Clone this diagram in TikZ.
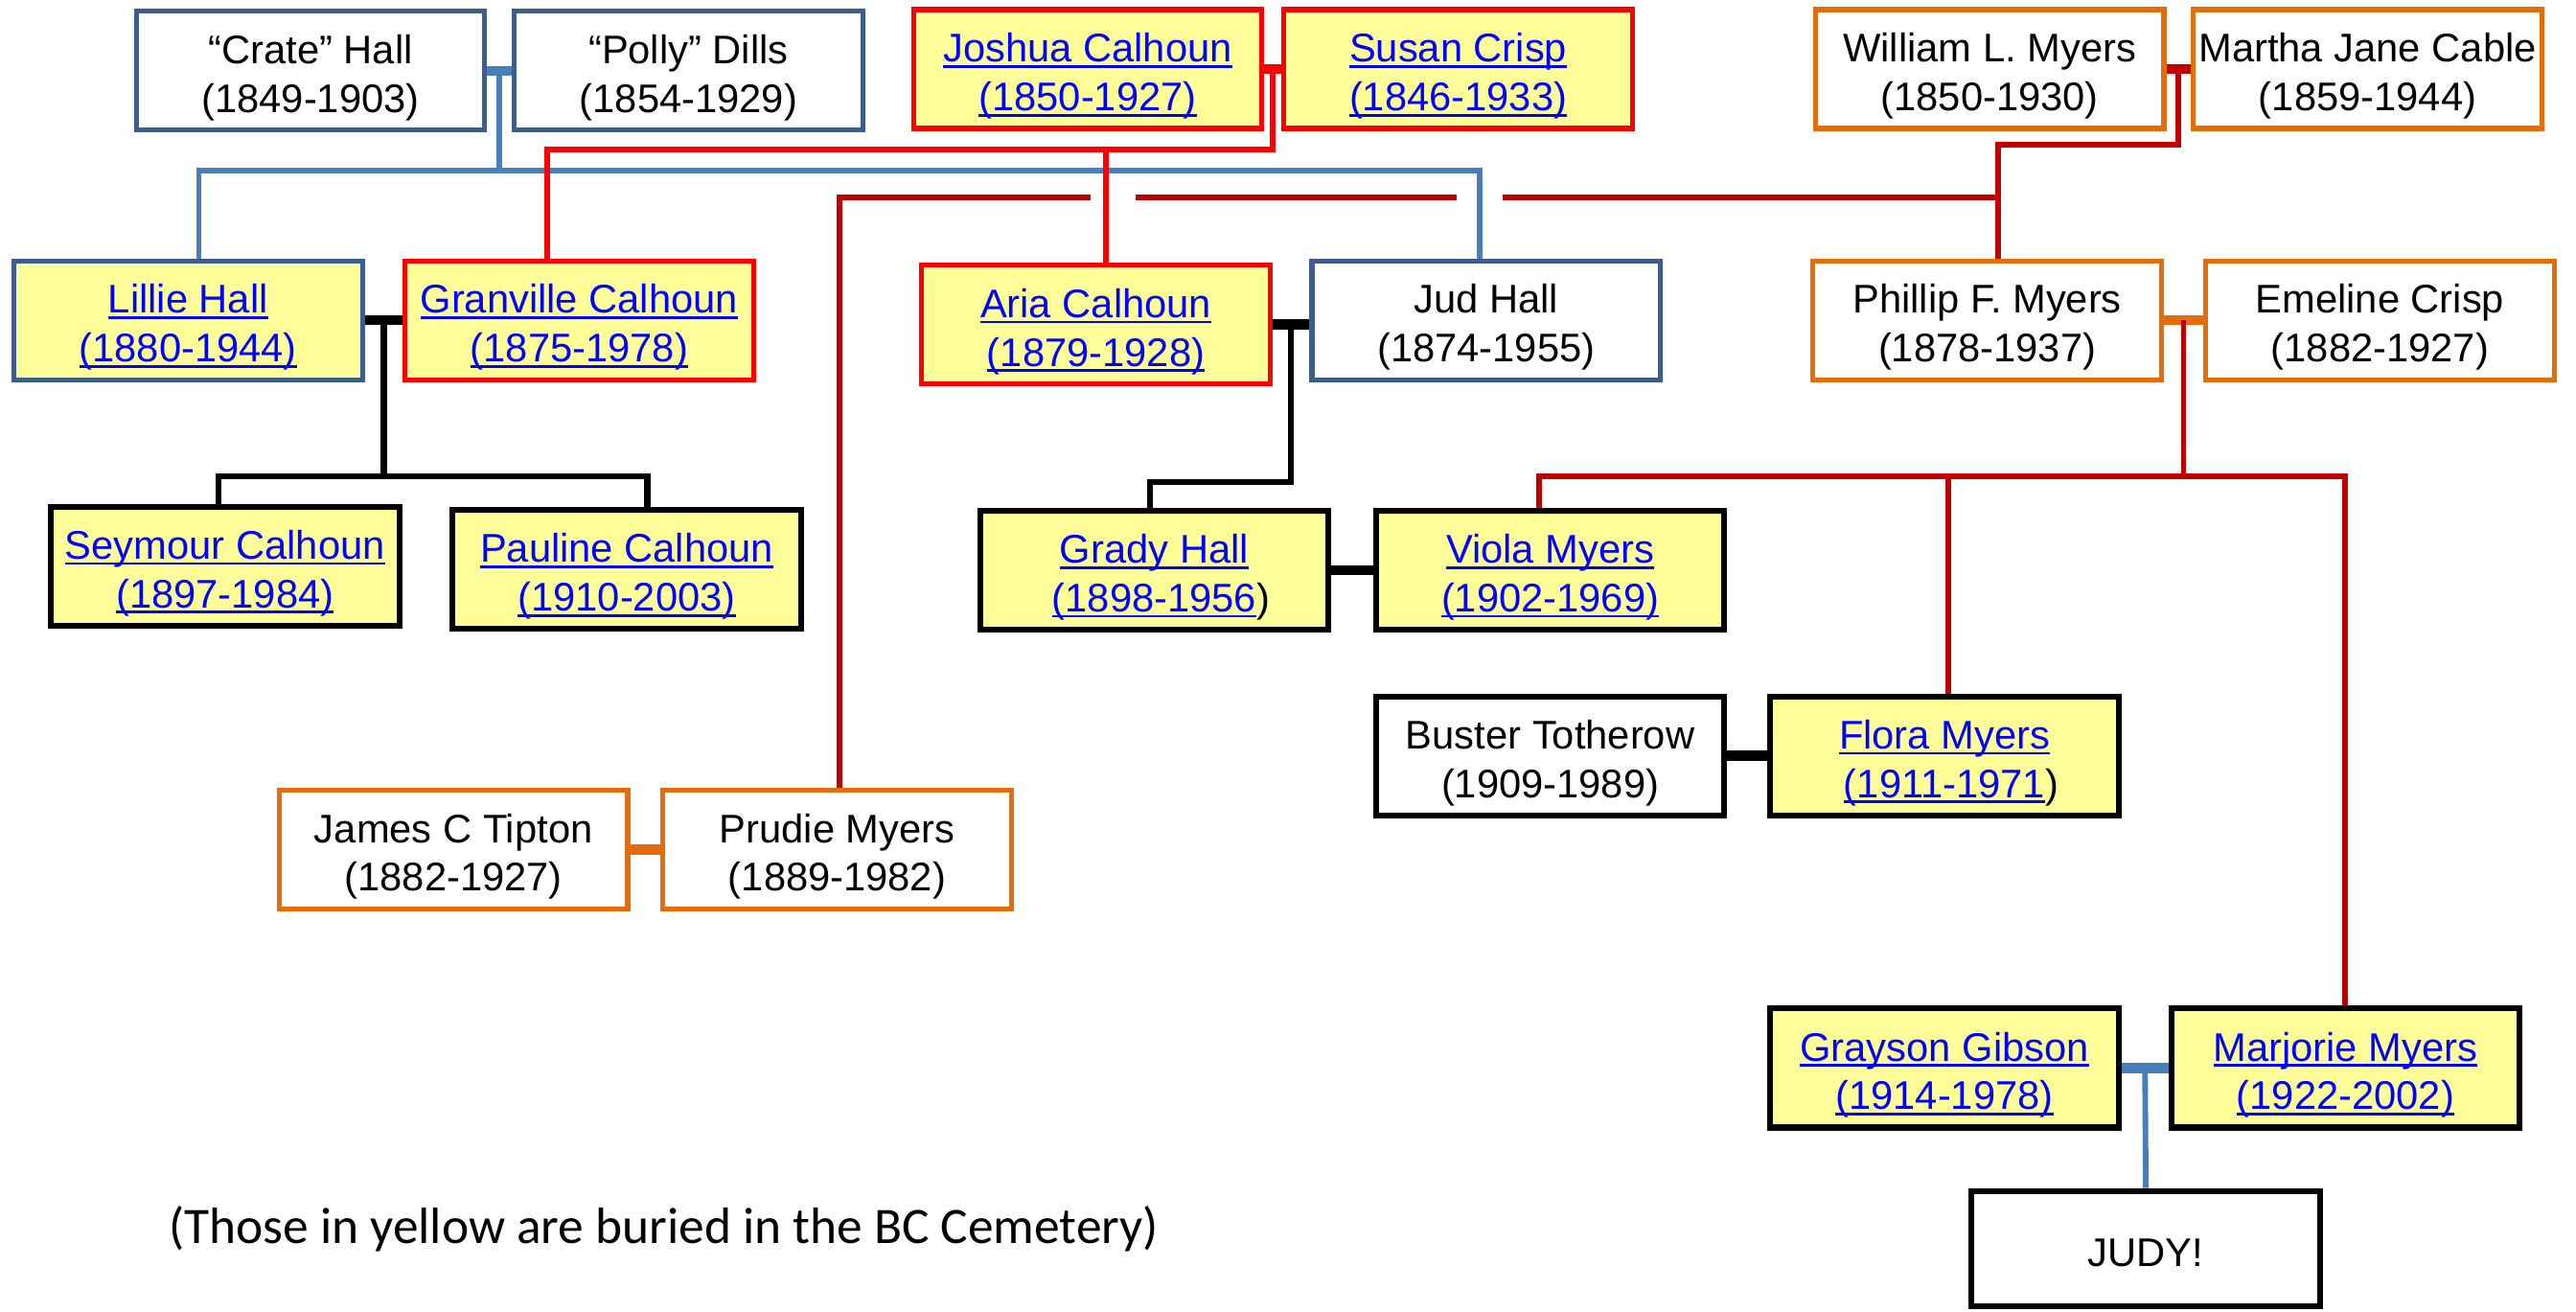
\documentclass[tikz,border=0pt]{standalone}
\usepackage{fontspec}
\setmainfont{Liberation Sans}
\newfontfamily\capfont{Carlito}
\usetikzlibrary{calc}
\definecolor{boxblue}{HTML}{3B5E8C}
\definecolor{lineblue}{HTML}{4A7EBB}
\definecolor{redC}{HTML}{FF0000}
\definecolor{dredC}{HTML}{C00000}
\definecolor{orangeC}{HTML}{E46C0A}
\definecolor{yellowF}{HTML}{FFFF99}
\definecolor{linkC}{HTML}{0000FF}
\newcommand\lk[1]{{\setbox0\hbox{#1}\color{linkC}\rlap{\rule[-3.5pt]{\wd0}{1.6pt}}\box0}}
\newcommand\st{\rule{0pt}{26pt}}
\tikzset{
  person/.style={rectangle, minimum width=211pt, minimum height=72pt, inner sep=0pt,
    align=center, font=\fontsize{24.2}{29.5}\selectfont, line width=3pt},
  pb/.style={person, draw=boxblue},
  pr/.style={person, draw=redC},
  po/.style={person, draw=orangeC},
  pk/.style={person, draw=black, line width=3.6pt},
  buried/.style={fill=yellowF},
  bl/.style={draw=lineblue, line width=3.4pt},
  rl/.style={draw=redC, line width=3.4pt},
  drl/.style={draw=dredC, line width=3.4pt},
  kl/.style={draw=black, line width=3.8pt},
  ol/.style={draw=orangeC, line width=3.4pt},
  bar/.style={line width=6pt}
}
\begin{document}
\begin{tikzpicture}[x=0.995pt,y=-0.995pt]
\useasboundingbox (0pt,0pt) rectangle (1560pt,-794.5pt);
% row 1
\node[pb] (crate) at (189,43) {\st``Crate'' Hall\\(1849-1903)};
\node[pb] (polly) at (419,43) {\st``Polly'' Dills\\(1854-1929)};
\node[pr,buried] (joshua) at (662,42) {\st\lk{Joshua Calhoun}\\\lk{(1850-1927)}};
\node[pr,buried] (susan) at (887.5,42) {\st\lk{Susan Crisp}\\\lk{(1846-1933)}};
\node[po] (william) at (1211,42) {\st William L. Myers\\(1850-1930)};
\node[po] (martha) at (1441,42) {\st Martha Jane Cable\\(1859-1944)};
% row 2
\node[pb,buried] (lillie) at (114.5,195) {\st\lk{Lillie Hall}\\\lk{(1880-1944)}};
\node[pr,buried] (granville) at (352.5,195) {\st\lk{Granville Calhoun}\\\lk{(1875-1978)}};
\node[pr,buried] (aria) at (667,197.5) {\st\lk{Aria Calhoun}\\\lk{(1879-1928)}};
\node[pb] (jud) at (904.5,195) {\st Jud Hall\\(1874-1955)};
\node[po] (phillip) at (1209.5,195) {\st Phillip F. Myers\\(1878-1937)};
\node[po] (emeline) at (1448.5,195) {\st Emeline Crisp\\(1882-1927)};
% row 3
\node[pk,buried] (seymour) at (137,344.5) {\st\lk{Seymour Calhoun}\\\lk{(1897-1984)}};
\node[pk,buried] (pauline) at (381.5,346.5) {\st\lk{Pauline Calhoun}\\\lk{(1910-2003)}};
\node[pk,buried] (grady) at (702.5,347) {\st\lk{Grady Hall}\\\lk{(1898-1956}\rlap{)}};
\node[pk,buried] (viola) at (943.5,347) {\st\lk{Viola Myers}\\\lk{(1902-1969)}};
% row 4
\node[pk] (buster) at (943.5,460) {\st Buster Totherow\\(1909-1989)};
\node[pk,buried] (flora) at (1183.5,460) {\st\lk{Flora Myers}\\\lk{(1911-1971}\rlap{)}};
\node[po] (james) at (276,517) {\st James C Tipton\\(1882-1927)};
\node[po] (prudie) at (509.5,517) {\st Prudie Myers\\(1889-1982)};
% row 5
\node[pk,buried] (grayson) at (1183.5,650) {\st\lk{Grayson Gibson}\\\lk{(1914-1978)}};
\node[pk,buried] (marjorie) at (1427.5,650) {\st\lk{Marjorie Myers}\\\lk{(1922-2002)}};
\node[pk, minimum height=70pt] (judy) at (1306,760) {\rule{0pt}{22pt}JUDY!};
% caption
\node[font=\capfont\fontsize{31}{37}\selectfont, inner sep=0pt] (note) at (404,748) {(Those in yellow are buried in the BC Cemetery)};

% named points
\coordinate (chm) at ($(crate.east)!.5!(polly.west)$);
\coordinate (chbus) at ($(chm)+(0,61)$);
\coordinate (lltop) at ([xshift=6.5pt]lillie.north);
\coordinate (judtop) at ([xshift=-4pt]jud.north);
\coordinate (jsm) at ($(joshua.east)!.5!(susan.west)$);
\coordinate (jsbus) at ($(jsm)+(0,49)$);
\coordinate (gtop) at ([xshift=-19.5pt]granville.north);
\coordinate (ariatop) at ([xshift=6pt]aria.north);
\coordinate (wmm) at ($(william.east)!.5!(martha.west)$);
\coordinate (wmbus) at ($(wmm)+(0,46)$);
\coordinate (phtop) at ([xshift=6.5pt]phillip.north);
\coordinate (prtop) at ([xshift=1.5pt]prudie.north);
\coordinate (drR) at (phtop |- 0,120);
\coordinate (pem) at ($(phillip.east)!.5!(emeline.west)$);
\coordinate (pebus) at ($(pem)+(0,95)$);
\coordinate (vitop) at ([xshift=-6.5pt]viola.north);
\coordinate (fltop) at ([xshift=2.5pt]flora.north);
\coordinate (mjtop) at (marjorie.north);
\coordinate (lgm) at ($(lillie.east)!.5!(granville.west)$);
\coordinate (lgbus) at ($(lgm)+(0,95)$);
\coordinate (setop) at ([xshift=-4pt]seymour.north);
\coordinate (patop) at ([xshift=12.5pt]pauline.north);
\coordinate (ajr) at (aria.east -| jud.west);
\coordinate (ajm) at ($(aria.east)!.5!(ajr)$);
\coordinate (ajbus) at ($(ajm)+(0,96)$);
\coordinate (grtop) at ([xshift=-2.5pt]grady.north);
\coordinate (ggm) at ($(grayson.east)!.5!(marjorie.west)$);

% blue family
\draw[bl,bar] (crate.east) -- (polly.west);
\draw[bl] (chm) -- (chbus);
\draw[bl] (lltop) |- (judtop |- chbus) -- (judtop);
% red family
\draw[rl,bar] (joshua.east) -- (susan.west);
\draw[rl] (jsm) -- (jsbus) -| (gtop);
\draw[rl] (ariatop |- jsbus) -- (ariatop);
% dark red family
\draw[drl,bar] (william.east) -- (martha.west);
\draw[drl] (wmm) -- (wmbus) -| (phtop);
\draw[drl] (prtop) |- ($(ariatop |- drR)+(-9,0)$);
\draw[drl] ($(ariatop |- drR)+(18,0)$) -- ($(judtop |- drR)+(-14,0)$);
\draw[drl] ($(judtop |- drR)+(14,0)$) -- (drR);
\draw[ol,bar] (phillip.east) -- (emeline.west);
\draw[drl] (pem) -- (pebus);
\draw[drl] (vitop) |- (mjtop |- pebus) -- (mjtop);
\draw[drl] (fltop |- pebus) -- (fltop);
% black
\draw[kl,bar] (lillie.east) -- (granville.west);
\draw[kl] (lgm) -- (lgbus);
\draw[kl] (setop) |- (patop |- lgbus) -- (patop);
\draw[kl,bar] (aria.east) -- (ajr);
\draw[kl] (ajm) -- (ajbus) -| (grtop);
\draw[kl,bar] (grady.east) -- (viola.west);
\draw[kl,bar] (buster.east) -- (flora.west);
% orange
\draw[ol,bar] (james.east) -- (prudie.west);
% blue bottom
\draw[bl,bar] (grayson.east) -- (marjorie.west);
\draw[bl] (ggm) -- (judy.north);
\end{tikzpicture}
\end{document}
